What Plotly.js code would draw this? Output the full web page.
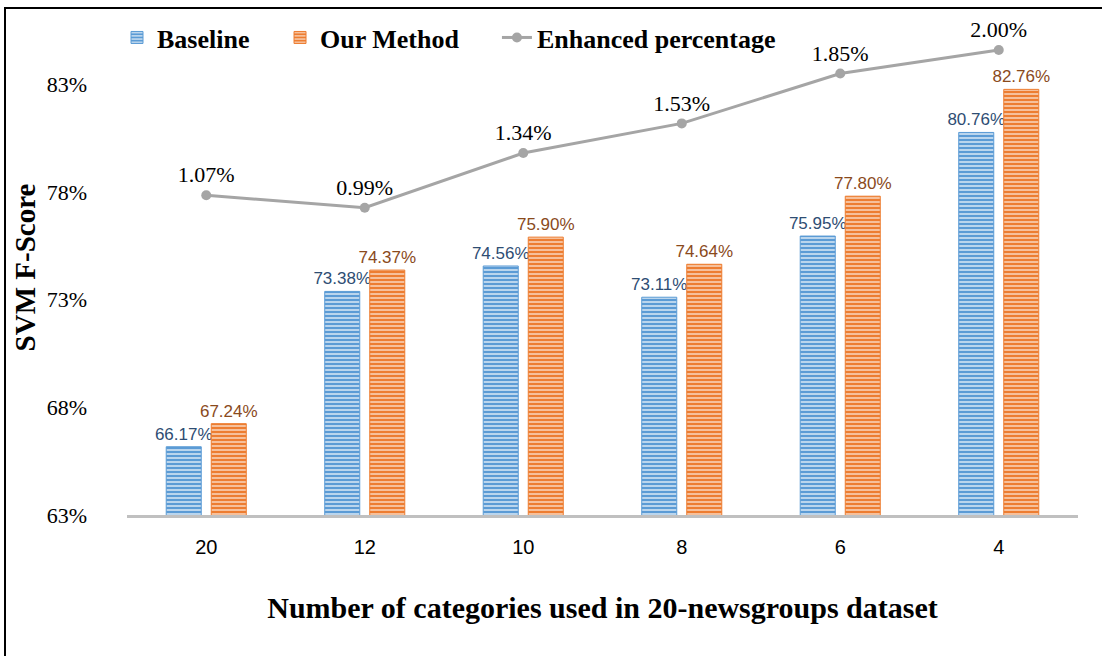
<!DOCTYPE html>
<html>
<head>
<meta charset="utf-8">
<script src="https://cdn.plot.ly/plotly-3.0.1.min.js"></script>
<style>
  html, body { margin: 0; padding: 0; background: #ffffff; }
  #chart { width: 1102px; height: 656px; position: relative; }
  #frame { position: absolute; left: 4px; top: 7px; right: -10px; bottom: -10px;
           border-left: 2px solid #000; border-top: 2px solid #000; pointer-events: none; }
</style>
</head>
<body>
<div id="chart"></div>
<div id="frame"></div>
<script>
// ---- data ----
const categories = ["20", "12", "10", "8", "6", "4"];
const baseline = [66.17, 73.38, 74.56, 73.11, 75.95, 80.76];
const ourMethod = [67.24, 74.37, 75.90, 74.64, 77.80, 82.76];
const enhanced = [1.07, 0.99, 1.34, 1.53, 1.85, 2.00];
const yTickVals = [63, 68, 73, 78, 83];
const yTickText = ["63%", "68%", "73%", "78%", "83%"];

const fmt = v => v.toFixed(2) + "%";

const traceBaseline = {
  type: "bar", name: "Baseline", x: categories, y: baseline, legend: "legend",
  text: baseline.map(fmt), textposition: "outside", cliponaxis: false, constraintext: "none",
  textfont: { family: "Liberation Sans, Arial, sans-serif", size: 17, color: "#2e4d73" },
  marker: { color: "#5b9bd5",
            line: { color: "#5b9bd5", width: 1 },
            pattern: { shape: "-", bgcolor: "#5b9bd5", fgcolor: "#d3e4f4", size: 4, solidity: 0.4 } },
  hoverinfo: "x+y"
};
const traceOur = {
  type: "bar", name: "Our Method", x: categories, y: ourMethod, legend: "legend2",
  text: ourMethod.map(fmt), textposition: "outside", cliponaxis: false, constraintext: "none",
  textfont: { family: "Liberation Sans, Arial, sans-serif", size: 17, color: "#8a4a1c" },
  marker: { color: "#ed7d31",
            line: { color: "#ed7d31", width: 1 },
            pattern: { shape: "-", bgcolor: "#ed7d31", fgcolor: "#f9d2b6", size: 4, solidity: 0.4 } },
  hoverinfo: "x+y"
};
const traceLine = {
  type: "scatter", mode: "lines+markers+text", name: "Enhanced percentage",
  x: categories, y: enhanced, yaxis: "y2", legend: "legend3",
  text: enhanced.map(fmt), textposition: "top center", cliponaxis: false,
  textfont: { family: "Liberation Serif, Times New Roman, serif", size: 22, color: "#000000" },
  line: { color: "#a5a5a5", width: 3 },
  marker: { color: "#a5a5a5", size: 10 }
};

const legendFont = { family: "Liberation Serif, Times New Roman, serif", size: 26, weight: "bold", color: "#000" };
const legendBase = { orientation: "h", xanchor: "left", y: 1.012, yanchor: "top",
                     font: legendFont, bgcolor: "rgba(0,0,0,0)", itemwidth: 30 };

const layout = {
  width: 1102, height: 656,
  margin: { l: 127, r: 24, t: 20, b: 141 },
  paper_bgcolor: "#ffffff", plot_bgcolor: "#ffffff",
  font: { family: "Liberation Serif, Times New Roman, serif", color: "#000000" },
  barmode: "group", bargap: 0.432, bargroupgap: 0.222,
  showlegend: true,
  legend: Object.assign({}, legendBase, { x: -0.0105 }),
  legend2: Object.assign({}, legendBase, { x: 0.1609 }),
  legend3: Object.assign({}, legendBase, { x: 0.389 }),
  xaxis: {
    type: "category", categoryorder: "array", categoryarray: categories,
    showline: true, linecolor: "#c0c0c0", linewidth: 3, showgrid: false, zeroline: false,
    ticks: "", ticklabelstandoff: 12, automargin: false,
    tickfont: { family: "Liberation Sans, Arial, sans-serif", size: 20, color: "#000" },
    title: { text: "Number of categories used in 20-newsgroups dataset", standoff: 40,
             font: { family: "Liberation Serif, Times New Roman, serif", size: 30, weight: "bold", color: "#000" } }
  },
  yaxis: {
    range: [63, 85.98], tickvals: yTickVals, ticktext: yTickText, automargin: false,
    showline: false, showgrid: false, zeroline: false, ticks: "", ticklabelstandoff: 39,
    tickfont: { family: "Liberation Serif, Times New Roman, serif", size: 22, color: "#000" },
    title: { text: "SVM F-Score", standoff: 2,
             font: { family: "Liberation Serif, Times New Roman, serif", size: 29, weight: "bold", color: "#000" } }
  },
  yaxis2: {
    overlaying: "y", side: "right", range: [-0.9786, 2.1924], visible: false,
    showgrid: false, zeroline: false
  }
};

Plotly.newPlot("chart", [traceBaseline, traceOur, traceLine], layout, { displayModeBar: false, staticPlot: true });
</script>
</body>
</html>
